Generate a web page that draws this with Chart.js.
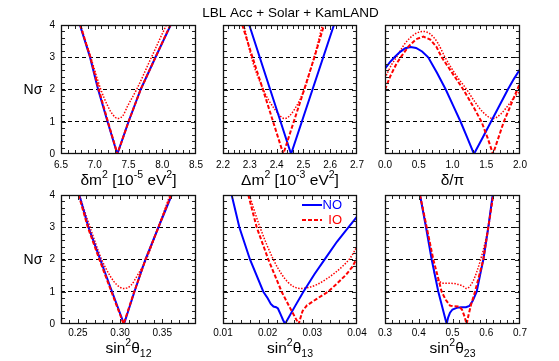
<!DOCTYPE html>
<html><head><meta charset="utf-8">
<script src="https://cdn.jsdelivr.net/npm/chart.js@4.4.1/dist/chart.umd.min.js"></script>
<style>
html,body{margin:0;padding:0;background:#fff;}
#wrap{position:relative;width:559px;height:361px;overflow:hidden;background:#fff;}
#wrap canvas{position:absolute;left:0;top:0;}
</style></head><body>
<div id="wrap"></div>
<script>
const chartTitle = 'LBL Acc + Solar + KamLAND';
const seriesNames = ['NO', 'IO', 'IO (Δχ² w.r.t. NO min)'];
const nsigmaTicks = [0, 1, 2, 3, 4];

// Panel 1: δm² [1e-5 eV²]
const dmsq_ticks = [6.5, 7.0, 7.5, 8.0, 8.5];
const dmsq_tickLabels = ['6.5', '7.0', '7.5', '8.0', '8.5'];
const dmsq_NO_x = [6.78, 6.93, 7.05, 7.19, 7.334, 7.50, 7.68, 7.90, 8.125];
const dmsq_NO_y = [4, 3, 2, 1, 0, 1, 2, 3, 4];
const dmsq_IO_x = [6.785, 6.935, 7.06, 7.195, 7.336, 7.50, 7.68, 7.90, 8.12];
const dmsq_IO_y = [4, 3, 2, 1, 0, 1, 2, 3, 4];
const dmsq_IOd_x = [6.79, 6.94, 7.09, 7.19, 7.26, 7.34, 7.42, 7.49, 7.62, 7.84, 8.06];
const dmsq_IOd_y = [4, 3, 2, 1.5, 1.24, 1.1, 1.2, 1.5, 2, 3, 4];

// Panel 2: Δm² [1e-3 eV²]
const Dmsq_ticks = [2.2, 2.3, 2.4, 2.5, 2.6, 2.7];
const Dmsq_tickLabels = ['2.2', '2.3', '2.4', '2.5', '2.6', '2.7'];
const Dmsq_NO_x = [2.298, 2.376, 2.454, 2.534, 2.614];
const Dmsq_NO_y = [4, 2, 0, 2, 4];
const Dmsq_IO_x = [2.272, 2.310, 2.349, 2.425, 2.464, 2.503, 2.541, 2.577];
const Dmsq_IO_y = [4, 3, 2, 0, 1, 2, 3, 4];
const Dmsq_IOd_x = [2.278, 2.306, 2.350, 2.392, 2.431, 2.468, 2.503, 2.540, 2.571];
const Dmsq_IOd_y = [4, 3, 2, 1.4, 1.1, 1.4, 2, 3, 4];

// Panel 3: δ/π
const dcp_ticks = [0, 0.5, 1.0, 1.5, 2.0];
const dcp_tickLabels = ['0.0', '0.5', '1.0', '1.5', '2.0'];
const dcp_NO_x = [0, 0.07, 0.14, 0.22, 0.30, 0.38, 0.46, 0.55, 0.64, 0.77, 0.90, 1.01, 1.12, 1.22, 1.318, 1.45, 1.57, 1.70, 1.82, 1.91, 2.0];
const dcp_NO_y = [2.65, 2.84, 3.0, 3.16, 3.28, 3.32, 3.29, 3.18, 3.0, 2.52, 2.0, 1.5, 1.0, 0.5, 0, 0.52, 1.0, 1.52, 2.0, 2.33, 2.63];
const dcp_IO_x = [0, 0.08, 0.17, 0.25, 0.35, 0.46, 0.57, 0.67, 0.76, 0.84, 1.0, 1.16, 1.30, 1.43, 1.52, 1.60, 1.68, 1.76, 1.86, 1.96, 2.0];
const dcp_IO_y = [2.0, 2.42, 2.8, 3.05, 3.34, 3.56, 3.64, 3.55, 3.33, 3.0, 2.5, 2.0, 1.5, 1.0, 0.5, 0, 0.5, 1.0, 1.5, 2.0, 2.2];
const dcp_IOd_x = [0, 0.10, 0.17, 0.27, 0.37, 0.47, 0.57, 0.67, 0.78, 0.89, 1.05, 1.21, 1.33, 1.45, 1.60, 1.72, 1.84, 1.93, 2.0];
const dcp_IOd_y = [2.35, 2.78, 3.0, 3.35, 3.6, 3.75, 3.8, 3.72, 3.45, 3.0, 2.45, 2.0, 1.62, 1.3, 1.1, 1.25, 1.55, 1.8, 1.95];

// Panel 4: sin²θ12
const s12_ticks = [0.25, 0.30, 0.35];
const s12_tickLabels = ['0.25', '0.30', '0.35'];
const s12_NO_x = [0.2517, 0.2625, 0.2765, 0.2905, 0.3047, 0.3170, 0.3300, 0.3455, 0.3612];
const s12_NO_y = [4, 3, 2, 1, 0, 1, 2, 3, 4];
const s12_IO_x = [0.2510, 0.2618, 0.2755, 0.2898, 0.3042, 0.3168, 0.3302, 0.3455, 0.3605];
const s12_IO_y = [4, 3, 2, 1, 0, 1, 2, 3, 4];
const s12_IOd_x = [0.2517, 0.2644, 0.2782, 0.2880, 0.2960, 0.3047, 0.3130, 0.3204, 0.3310, 0.3453, 0.3592];
const s12_IOd_y = [4, 3, 2, 1.5, 1.22, 1.1, 1.2, 1.5, 2, 3, 4];

// Panel 5: sin²θ13
const s13_ticks = [0.01, 0.02, 0.03, 0.04];
const s13_tickLabels = ['0.01', '0.02', '0.03', '0.04'];
const s13_NO_x = [0.01194, 0.01366, 0.01604, 0.01903, 0.0200, 0.0207, 0.0213, 0.0219, 0.0223, 0.0229, 0.0234, 0.02388, 0.0262, 0.0280, 0.0305, 0.0330, 0.0355, 0.0378, 0.0400];
const s13_NO_y = [4, 3, 2, 1, 0.8, 0.62, 0.54, 0.52, 0.48, 0.3, 0.14, 0, 0.57, 1.0, 1.55, 2.05, 2.55, 2.95, 3.33];
const s13_IO_x = [0.01567, 0.01754, 0.02015, 0.02313, 0.0250, 0.02694, 0.0278, 0.0288, 0.0310, 0.0335, 0.0355, 0.0375, 0.0390, 0.0400];
const s13_IO_y = [4, 3, 2, 1, 0.5, 0, 0.4, 0.58, 0.78, 1.0, 1.25, 1.52, 1.78, 2.05];
const s13_IOd_x = [0.01589, 0.01828, 0.02127, 0.0231, 0.0245, 0.0258, 0.0272, 0.0290, 0.0310, 0.0330, 0.0350, 0.0370, 0.0385, 0.0400];
const s13_IOd_y = [4, 3, 2, 1.55, 1.3, 1.16, 1.1, 1.13, 1.22, 1.38, 1.58, 1.82, 2.05, 2.4];

// Panel 6: sin²θ23
const s23_ticks = [0.3, 0.4, 0.5, 0.6, 0.7];
const s23_tickLabels = ['0.3', '0.4', '0.5', '0.6', '0.7'];
const s23_NO_x = [0.4037, 0.4215, 0.4383, 0.4580, 0.4827, 0.4870, 0.4926, 0.5000, 0.5124, 0.5250, 0.5400, 0.5500, 0.5600, 0.5716, 0.5814, 0.5914, 0.6062, 0.6190];
const s23_NO_y = [4, 3, 2, 1, 0, 0.2, 0.35, 0.45, 0.5, 0.52, 0.52, 0.56, 0.72, 1.0, 1.5, 2, 3, 4];
const s23_IO_x = [0.4037, 0.4235, 0.4432, 0.4679, 0.4800, 0.4926, 0.5050, 0.5200, 0.5280, 0.5350, 0.5420, 0.5480, 0.5550, 0.5667, 0.5790, 0.5914, 0.6060, 0.6210];
const s23_IO_y = [4, 3, 2, 1, 0.75, 0.57, 0.55, 0.54, 0.45, 0.25, 0, 0.3, 0.6, 1.0, 1.5, 2, 3, 4];
const s23_IOd_x = [0.4037, 0.4230, 0.4405, 0.4480, 0.4600, 0.4778, 0.4950, 0.5120, 0.5300, 0.5420, 0.5520, 0.5620, 0.5720, 0.5820, 0.5925, 0.6060, 0.6190];
const s23_IOd_y = [4, 3, 2, 1.5, 1.33, 1.26, 1.26, 1.24, 1.18, 1.1, 1.18, 1.35, 1.62, 1.95, 2.35, 3, 4];

// ---------- layout / styling ----------
const W = 559, H = 361;
const YW = 24, XH = 22;
const FONT = '"Liberation Sans", Arial, "DejaVu Sans", sans-serif';
const styles = [
  {borderColor: '#0000ff', borderWidth: 2, borderDash: [], order: 1},
  {borderColor: '#ff0000', borderWidth: 2, borderDash: [4, 2], order: 0},
  {borderColor: '#ff0000', borderWidth: 1.5, borderDash: [1.5, 1.5], order: 2}
];
const panels = [
  {L: 61, R: 196, T: 25, B: 154, xmin: 6.5, xmax: 8.5, ticks: dmsq_ticks, labels: dmsq_tickLabels, minor: 0.1, tickPad: 5,
   title: [['δm', 'n'], ['2', 'sup'], [' [10', 'n'], ['-5', 'sup'], [' eV', 'n'], ['2', 'sup'], [']', 'n']], titleY: 185,
   series: [[dmsq_NO_x, dmsq_NO_y], [dmsq_IO_x, dmsq_IO_y], [dmsq_IOd_x, dmsq_IOd_y]], smooth: [false, false, true], yLabels: true, mainTitle: true},
  {L: 223, R: 357, T: 25, B: 154, xmin: 2.2, xmax: 2.7, ticks: Dmsq_ticks, labels: Dmsq_tickLabels, minor: 0.02, tickPad: 5,
   title: [['Δm', 'n'], ['2', 'sup'], [' [10', 'n'], ['-3', 'sup'], [' eV', 'n'], ['2', 'sup'], [']', 'n']], titleY: 185,
   series: [[Dmsq_NO_x, Dmsq_NO_y], [Dmsq_IO_x, Dmsq_IO_y], [Dmsq_IOd_x, Dmsq_IOd_y]], smooth: [false, false, true]},
  {L: 385, R: 520, T: 25, B: 154, xmin: 0, xmax: 2, ticks: dcp_ticks, labels: dcp_tickLabels, minor: 0.1, tickPad: 5,
   title: [['δ/π', 'n']], titleY: 185,
   series: [[dcp_NO_x, dcp_NO_y], [dcp_IO_x, dcp_IO_y], [dcp_IOd_x, dcp_IOd_y]], smooth: [false, false, true]},
  {L: 61, R: 196, T: 195, B: 324, xmin: 0.23, xmax: 0.39, ticks: s12_ticks, labels: s12_tickLabels, minor: 0.01, tickPad: 3,
   title: [['sin', 'n'], ['2', 'sup'], ['θ', 'n'], ['12', 'sub']], titleY: 353,
   series: [[s12_NO_x, s12_NO_y], [s12_IO_x, s12_IO_y], [s12_IOd_x, s12_IOd_y]], smooth: [false, false, true], yLabels: true},
  {L: 223, R: 357, T: 195, B: 324, xmin: 0.01, xmax: 0.04, ticks: s13_ticks, labels: s13_tickLabels, minor: 0.002, tickPad: 3,
   title: [['sin', 'n'], ['2', 'sup'], ['θ', 'n'], ['13', 'sub']], titleY: 353,
   series: [[s13_NO_x, s13_NO_y], [s13_IO_x, s13_IO_y], [s13_IOd_x, s13_IOd_y]], smooth: [false, false, true], legend: true},
  {L: 385, R: 520, T: 195, B: 324, xmin: 0.3, xmax: 0.7, ticks: s23_ticks, labels: s23_tickLabels, minor: 0.02, tickPad: 3,
   title: [['sin', 'n'], ['2', 'sup'], ['θ', 'n'], ['23', 'sub']], titleY: 353,
   series: [[s23_NO_x, s23_NO_y], [s23_IO_x, s23_IO_y], [s23_IOd_x, s23_IOd_y]], smooth: [false, false, true]}
];

function richText(ctx, segs, cx, by, size) {
  const small = size * 0.68;
  let total = 0;
  const parts = segs.map(([t, k]) => {
    const f = (k === 'n' ? size : small) + 'px ' + FONT;
    ctx.font = f;
    const w = ctx.measureText(t).width;
    total += w;
    return {t, k, f, w};
  });
  let x = cx - total / 2;
  ctx.textAlign = 'left';
  ctx.textBaseline = 'alphabetic';
  ctx.fillStyle = '#000';
  parts.forEach(p => {
    ctx.font = p.f;
    const dy = p.k === 'sup' ? -size * 0.45 : (p.k === 'sub' ? size * 0.28 : 0);
    ctx.fillText(p.t, x, by + dy);
    x += p.w;
  });
}

function decorPlugin(p) {
  return {
    id: 'decor',
    afterDraw(chart) {
      const ctx = chart.ctx;
      const a = chart.chartArea;
      const xs = chart.scales.x, ys = chart.scales.y;
      ctx.save();
      // inward ticks on all four sides
      ctx.strokeStyle = '#222';
      ctx.lineWidth = 1;
      ctx.beginPath();
      const nx = Math.round((p.xmax - p.xmin) / p.minor);
      for (let i = 1; i < nx; i++) {
        const v = p.xmin + i * p.minor;
        const major = p.ticks.some(t => Math.abs(t - v) < p.minor / 10);
        const len = major ? 5 : 4;
        const px = Math.round(xs.getPixelForValue(v)) + 0.5;
        ctx.moveTo(px, a.bottom); ctx.lineTo(px, a.bottom - len);
        ctx.moveTo(px, a.top); ctx.lineTo(px, a.top + len);
      }
      for (let i = 1; i < 20; i++) {
        const v = i * 0.2;
        const len = (i % 5 === 0) ? 5 : 4;
        const py = Math.round(ys.getPixelForValue(v)) + 0.5;
        ctx.moveTo(a.left, py); ctx.lineTo(a.left + len, py);
        ctx.moveTo(a.right, py); ctx.lineTo(a.right - len, py);
      }
      ctx.stroke();
      // frame
      ctx.strokeStyle = '#111';
      ctx.lineWidth = 1.3;
      ctx.strokeRect(a.left + 0.5, a.top + 0.5, a.right - a.left - 1, a.bottom - a.top - 1);
      // axis title
      richText(ctx, p.title, (a.left + a.right) / 2, p.titleY, 15.5);
      // N sigma label
      if (p.yLabels) {
        ctx.font = '14px ' + FONT;
        ctx.fillStyle = '#000';
        ctx.textAlign = 'center';
        ctx.textBaseline = 'middle';
        ctx.fillText('Nσ', 33, (a.top + a.bottom) / 2 + 1);
      }
      // main title
      if (p.mainTitle) {
        ctx.font = '13.5px ' + FONT;
        ctx.fillStyle = '#000';
        ctx.textAlign = 'center';
        ctx.textBaseline = 'alphabetic';
        ctx.fillText(chartTitle, 290.5, 17);
      }
      // legend
      if (p.legend) {
        const rows = [{y: 205, st: styles[0], name: seriesNames[0]}, {y: 220, st: styles[1], name: seriesNames[1]}];
        rows.forEach(r => {
          ctx.strokeStyle = r.st.borderColor;
          ctx.lineWidth = r.st.borderWidth;
          ctx.setLineDash(r.st.borderDash);
          ctx.beginPath();
          ctx.moveTo(302, r.y); ctx.lineTo(322, r.y);
          ctx.stroke();
          ctx.setLineDash([]);
          ctx.font = '13px ' + FONT;
          ctx.fillStyle = r.st.borderColor;
          ctx.textAlign = 'right';
          ctx.textBaseline = 'middle';
          ctx.fillText(r.name, 342, r.y + 0.5);
        });
      }
      ctx.restore();
    }
  };
}

const wrap = document.getElementById('wrap');
panels.forEach((p, k) => {
  const cv = document.createElement('canvas');
  cv.width = W; cv.height = H;
  wrap.appendChild(cv);
  const yw = p.yLabels ? YW : 0;
  const datasets = p.series.map((s, i) => Object.assign({
    label: seriesNames[i],
    data: s[0].map((x, j) => ({x: x, y: s[1][j]})),
    pointRadius: 0,
    fill: false,
    tension: 0,
    cubicInterpolationMode: p.smooth[i] ? 'monotone' : 'default'
  }, styles[i]));
  new Chart(cv, {
    type: 'line',
    data: {datasets},
    options: {
      responsive: false,
      animation: false,
      devicePixelRatio: 1,
      events: [],
      layout: {padding: {left: p.L - yw, right: W - p.R, top: p.T, bottom: H - p.B - XH}},
      plugins: {legend: {display: false}, tooltip: {enabled: false}, title: {display: false}},
      scales: {
        x: {
          type: 'linear', min: p.xmin, max: p.xmax,
          afterFit: s => { s.height = XH; },
          afterBuildTicks: s => { s.ticks = p.ticks.map(v => ({value: v})); },
          grid: {display: false, drawTicks: false}, border: {display: false},
          ticks: {color: '#000', font: {family: FONT, size: 10}, padding: p.tickPad, autoSkip: false, maxRotation: 0,
                  callback: (v, i) => p.labels[i]}
        },
        y: {
          type: 'linear', min: 0, max: 4,
          afterFit: s => { s.width = yw; },
          afterBuildTicks: s => { s.ticks = nsigmaTicks.map(v => ({value: v})); },
          grid: {display: true, drawTicks: false, lineWidth: 1,
                 color: c => (c.tick && c.tick.value > 0 && c.tick.value < 4) ? '#000' : 'rgba(0,0,0,0)'},
          border: {display: false, dash: [4, 3]},
          ticks: {display: !!p.yLabels, color: '#000', font: {family: FONT, size: 10}, padding: 6,
                  callback: v => String(v)}
        }
      }
    },
    plugins: [decorPlugin(p)]
  });
});
</script>
</body></html>
